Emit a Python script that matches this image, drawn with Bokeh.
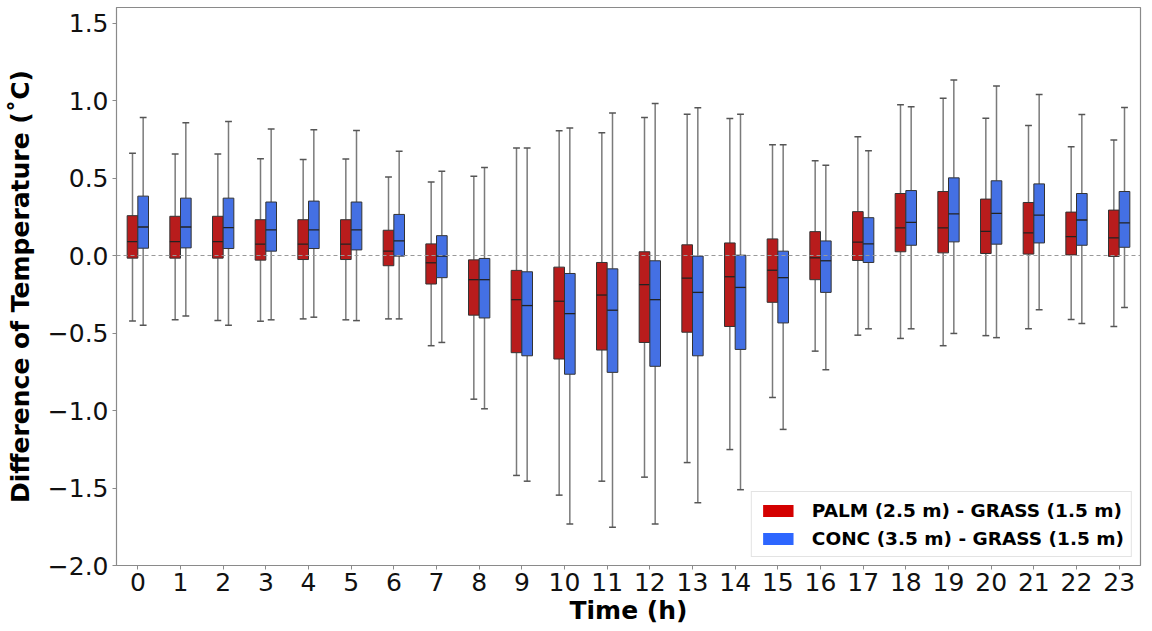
from bokeh.plotting import figure
from bokeh.models import ColumnDataSource, Legend, LegendItem, FixedTicker, CustomJSTickFormatter, Span, Range1d
from bokeh.embed import file_html
from bokeh.resources import INLINE

hours = list(range(24))

palm_upper = [0.66, 0.655, 0.655, 0.625, 0.62, 0.623, 0.507, 0.475, 0.512, 0.694, 0.805, 0.792, 0.891, 0.912, 0.884, 0.715, 0.612, 0.766, 0.972, 1.015, 0.886, 0.839, 0.702, 0.745]
palm_q3 = [0.257, 0.253, 0.253, 0.231, 0.231, 0.231, 0.163, 0.075, -0.028, -0.096, -0.075, -0.045, 0.024, 0.069, 0.081, 0.107, 0.154, 0.283, 0.400, 0.413, 0.364, 0.342, 0.280, 0.293]
palm_med = [0.090, 0.090, 0.090, 0.073, 0.073, 0.073, 0.028, -0.047, -0.156, -0.285, -0.295, -0.255, -0.188, -0.146, -0.137, -0.095, -0.015, 0.086, 0.178, 0.178, 0.156, 0.146, 0.122, 0.114]
palm_q1 = [-0.017, -0.017, -0.017, -0.030, -0.026, -0.026, -0.066, -0.184, -0.385, -0.627, -0.668, -0.610, -0.561, -0.495, -0.458, -0.302, -0.156, -0.032, 0.024, 0.017, 0.013, 0.009, 0.004, -0.006]
palm_lower = [-0.422, -0.415, -0.420, -0.424, -0.409, -0.415, -0.409, -0.582, -0.927, -1.419, -1.546, -1.456, -1.430, -1.336, -1.252, -0.916, -0.617, -0.514, -0.535, -0.582, -0.517, -0.473, -0.413, -0.458]

conc_upper = [0.891, 0.856, 0.865, 0.816, 0.811, 0.807, 0.672, 0.544, 0.567, 0.694, 0.822, 0.920, 0.981, 0.953, 0.912, 0.715, 0.582, 0.676, 0.959, 1.132, 1.094, 1.038, 0.910, 0.955]
conc_q3 = [0.383, 0.370, 0.370, 0.345, 0.351, 0.345, 0.265, 0.128, -0.019, -0.105, -0.116, -0.086, -0.034, -0.004, 0.002, 0.028, 0.094, 0.244, 0.419, 0.501, 0.482, 0.462, 0.400, 0.413]
conc_med = [0.184, 0.184, 0.180, 0.165, 0.165, 0.165, 0.094, -0.004, -0.156, -0.323, -0.375, -0.353, -0.285, -0.238, -0.206, -0.143, -0.034, 0.075, 0.214, 0.268, 0.272, 0.261, 0.229, 0.210]
conc_q1 = [0.047, 0.049, 0.045, 0.028, 0.045, 0.036, -0.004, -0.143, -0.403, -0.647, -0.766, -0.754, -0.715, -0.647, -0.606, -0.435, -0.238, -0.045, 0.066, 0.088, 0.073, 0.081, 0.066, 0.053]
conc_lower = [-0.450, -0.390, -0.450, -0.415, -0.398, -0.420, -0.409, -0.561, -0.989, -1.456, -1.732, -1.753, -1.732, -1.595, -1.511, -1.122, -0.737, -0.473, -0.473, -0.503, -0.530, -0.350, -0.439, -0.336]

series_labels = ["PALM (2.5 m) - GRASS (1.5 m)", "CONC (3.5 m) - GRASS (1.5 m)"]
y_ticks = [-2.0, -1.5, -1.0, -0.5, 0.0, 0.5, 1.0, 1.5]

BOX_W = 0.25
CAP_HALF = 0.08

p = figure(frame_width=1024, frame_height=558, output_backend="svg", toolbar_location=None,
           x_range=Range1d(-0.5, 23.5), y_range=Range1d(-2.0, 1.6),
           min_border_left=116, min_border_right=6, min_border_top=7, min_border_bottom=10)
p.xgrid.visible = False
p.ygrid.visible = False
p.outline_line_color = "#8a8a8a"
p.outline_line_width = 1.2

zero = Span(location=0, dimension="width", line_color="#999999", line_dash="4 3", line_width=1)
p.add_layout(zero)

def draw(offset, upper, q3, med, q1, lower, fill, legend_fill):
    xs = [h + offset for h in hours]
    src = ColumnDataSource(dict(
        x=xs, x0=[x - BOX_W / 2 for x in xs], x1=[x + BOX_W / 2 for x in xs],
        c0=[x - CAP_HALF for x in xs], c1=[x + CAP_HALF for x in xs],
        upper=upper, q3=q3, med=med, q1=q1, lower=lower))
    p.segment(x0="x", y0="q3", x1="x", y1="upper", source=src, line_color="#7a7a7a", line_width=1.5)
    p.segment(x0="x", y0="q1", x1="x", y1="lower", source=src, line_color="#7a7a7a", line_width=1.5)
    p.segment(x0="c0", y0="upper", x1="c1", y1="upper", source=src, line_color="#555555", line_width=1.5)
    p.segment(x0="c0", y0="lower", x1="c1", y1="lower", source=src, line_color="#555555", line_width=1.5)
    p.vbar(x="x", width=BOX_W, top="q3", bottom="q1", source=src, fill_color=fill,
           line_color="#333333", line_width=1)
    p.segment(x0="x0", y0="med", x1="x1", y1="med", source=src, line_color="#222222", line_width=1.3)
    # zero-width proxy used only for the legend swatch
    return p.vbar(x="x", width=0, top="q3", bottom="q1", source=src, fill_color=legend_fill,
                  line_color=legend_fill, line_alpha=0.0)

r_palm = draw(-BOX_W / 2, palm_upper, palm_q3, palm_med, palm_q1, palm_lower, "#b81c1c", "#d40000")
r_conc = draw(BOX_W / 2, conc_upper, conc_q3, conc_med, conc_q1, conc_lower, "#4470e4", "#2d66ff")

legend = Legend(items=[LegendItem(label=series_labels[0], renderers=[r_palm]),
                       LegendItem(label=series_labels[1], renderers=[r_conc])],
                location="bottom_right", margin=8, padding=7, spacing=6,
                glyph_width=38, glyph_height=15, label_height=22, label_standoff=15,
                label_text_font="DejaVu Sans", label_text_font_style="bold", label_text_font_size="18.5px",
                label_text_color="#000000",
                border_line_color="#c8c8c8", border_line_width=1.2, background_fill_alpha=1.0)
p.add_layout(legend)

# axes
p.xaxis.ticker = FixedTicker(ticks=hours)
p.yaxis.ticker = FixedTicker(ticks=y_ticks)
p.yaxis.formatter = CustomJSTickFormatter(code="return (tick < 0 ? '\\u2212' : '') + Math.abs(tick).toFixed(1);")
for ax in (p.xaxis[0], p.yaxis[0]):
    ax.major_label_text_font = "DejaVu Sans"
    ax.major_label_text_font_size = "25px"
    ax.major_label_text_color = "#111111"
    ax.axis_label_text_font = "DejaVu Sans"
    ax.axis_label_text_font_size = "25px"
    ax.axis_label_text_font_style = "bold"
    ax.axis_label_text_color = "#000000"
    ax.axis_line_color = "#8a8a8a"
    ax.major_tick_line_color = "#8a8a8a"
    ax.major_tick_out = 4
    ax.major_tick_in = 0
    ax.minor_tick_line_color = None
p.xaxis.axis_label = "Time (h)"
p.yaxis.axis_label = "Difference of Temperature (˚C)"
p.xaxis.major_label_standoff = 3
p.yaxis.major_label_standoff = 4
p.xaxis.axis_label_standoff = 2
p.yaxis.axis_label_standoff = 10

open("out.html", "w").write(file_html(p, INLINE))
